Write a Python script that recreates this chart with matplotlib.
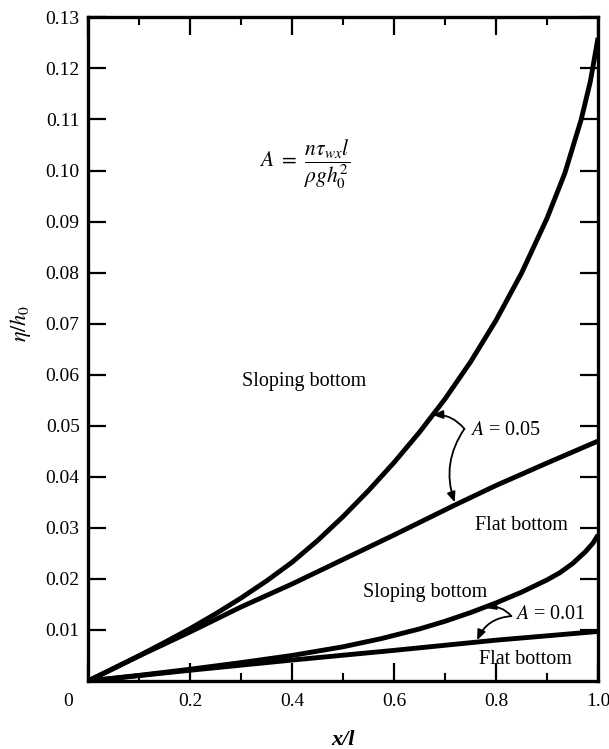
import matplotlib
matplotlib.use("Agg")
import matplotlib.pyplot as plt
from matplotlib.ticker import MultipleLocator, FixedLocator
from matplotlib.transforms import ScaledTranslation

# ---- data ----
x_slope_05 = [0, 0.05, 0.1, 0.15, 0.2, 0.25, 0.3, 0.35, 0.4, 0.45, 0.5, 0.55, 0.6, 0.65, 0.7,
              0.75, 0.8, 0.85, 0.9, 0.935, 0.967, 0.985, 1.0]
y_slope_05 = [0, 0.00245, 0.00495, 0.00755, 0.01025, 0.01315, 0.01625, 0.01960, 0.02325, 0.02750,
              0.03220, 0.03730, 0.04280, 0.04875, 0.05525, 0.06250, 0.07065, 0.07990, 0.09065,
              0.0995, 0.1100, 0.1175, 0.1260]

x_flat_05 = [0, 0.1, 0.2, 0.3, 0.4, 0.5, 0.6, 0.72, 0.8, 0.9, 1.0]
y_flat_05 = [0, 0.0049, 0.0096, 0.0145, 0.0190, 0.0238, 0.0286, 0.0345, 0.0383, 0.0427, 0.0470]

x_slope_01 = [0, 0.1, 0.2, 0.3, 0.4, 0.5, 0.575, 0.65, 0.7, 0.75, 0.8, 0.85, 0.9, 0.925, 0.95,
              0.975, 0.99, 1.0]
y_slope_01 = [0, 0.0011, 0.0023, 0.0036, 0.0050, 0.0067, 0.0083, 0.0102, 0.0117, 0.0134, 0.0153,
              0.0174, 0.0198, 0.0212, 0.0230, 0.0253, 0.0270, 0.0286]

x_flat_01 = [0, 0.2, 0.4, 0.6, 0.8, 1.0]
y_flat_01 = [0, 0.0021, 0.0041, 0.0060, 0.0080, 0.0097]

x_ticks = [0, 0.2, 0.4, 0.6, 0.8, 1.0]
x_tick_labels = ["0", "0.2", "0.4", "0.6", "0.8", "1.0"]
y_ticks = [0.01, 0.02, 0.03, 0.04, 0.05, 0.06, 0.07, 0.08, 0.09, 0.10, 0.11, 0.12, 0.13]
y_tick_labels = ["0.01", "0.02", "0.03", "0.04", "0.05", "0.06", "0.07", "0.08", "0.09", "0.10", "0.11", "0.12", "0.13"]

plt.rcParams["font.family"] = ["Liberation Serif", "DejaVu Serif"]
plt.rcParams["mathtext.fontset"] = "stix"

fig = plt.figure(figsize=(6.09, 7.49), dpi=100)
ax = fig.add_axes([0.1445, 0.0908, 0.8375, 0.886])

lw = 3.5
for xs, ys in [(x_slope_05, y_slope_05), (x_flat_05, y_flat_05),
               (x_slope_01, y_slope_01), (x_flat_01, y_flat_01)]:
    ax.plot(xs, ys, color="black", lw=lw, solid_capstyle="butt", solid_joinstyle="round")

ax.set_xlim(0, 1.0)
ax.set_ylim(0, 0.13)

ax.xaxis.set_major_locator(FixedLocator(x_ticks))
ax.set_xticklabels(x_tick_labels)
ax.xaxis.set_minor_locator(MultipleLocator(0.1))
ax.yaxis.set_major_locator(FixedLocator(y_ticks))
ax.set_yticklabels(y_tick_labels)

ax.tick_params(which="major", direction="in", length=13, width=1.6, top=True, right=True,
               labelsize=14, pad=6)
ax.tick_params(axis="x", which="major", pad=9)
ax.tick_params(which="minor", direction="in", length=6, width=1.5, top=True, right=False, left=False)
for s in ax.spines.values():
    s.set_linewidth(2.4)

# shift the corner "0" label left
lbl0 = ax.get_xticklabels()[0]
lbl0.set_transform(lbl0.get_transform() + ScaledTranslation(-14 / 72, 0, fig.dpi_scale_trans))

ax.set_xlabel("x/l", fontsize=16, fontstyle="italic", fontweight="bold", labelpad=14)
ax.set_ylabel(r"$\eta/h_0$", fontsize=16)
ax.yaxis.set_label_coords(-0.108, 0.539)

# formula
ax.text(0.335, 0.1012, r"$A\ =\ \dfrac{n\tau_{wx}l}{\rho g h_0^2}$", fontsize=15.5, ha="left", va="center")

# labels
tfs = 14.5
ax.text(0.424, 0.0586, "Sloping bottom", fontsize=tfs, ha="center", va="center")
ax.text(0.749, 0.0490, r"$A$ = 0.05", fontsize=tfs, ha="left", va="center")
ax.text(0.849, 0.0304, "Flat bottom", fontsize=tfs, ha="center", va="center")
ax.text(0.66, 0.0173, "Sloping bottom", fontsize=tfs, ha="center", va="center")
ax.text(0.837, 0.0131, r"$A$ = 0.01", fontsize=tfs, ha="left", va="center")
ax.text(0.857, 0.0043, "Flat bottom", fontsize=tfs, ha="center", va="center")

ap = dict(arrowstyle="-|>,head_length=0.6,head_width=0.25", color="black", lw=1.3, shrinkA=0, shrinkB=0)
# A = 0.05 arrows
ax.annotate("", xy=(0.676, 0.0521), xytext=(0.738, 0.0494),
            arrowprops=dict(ap, connectionstyle="arc3,rad=0.25"))
ax.annotate("", xy=(0.719, 0.0350), xytext=(0.738, 0.0494),
            arrowprops=dict(ap, connectionstyle="arc3,rad=0.25"))
# A = 0.01 arrows
ax.annotate("", xy=(0.780, 0.0143), xytext=(0.830, 0.0127),
            arrowprops=dict(ap, connectionstyle="arc3,rad=0.3"))
ax.annotate("", xy=(0.763, 0.0080), xytext=(0.830, 0.0127),
            arrowprops=dict(ap, connectionstyle="arc3,rad=0.3"))

fig.savefig("out.png", dpi=100)
